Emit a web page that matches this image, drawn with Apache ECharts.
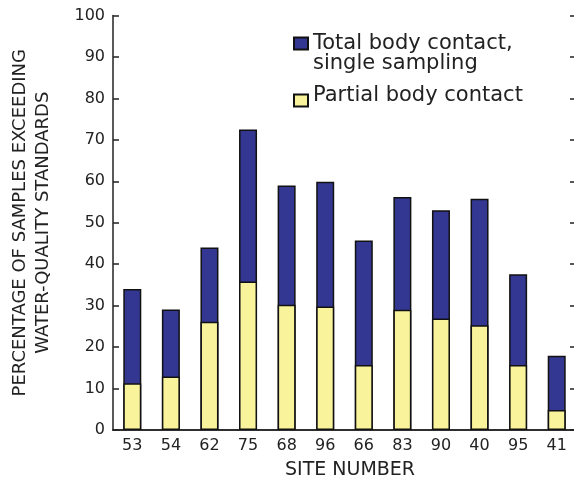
<!DOCTYPE html>
<html>
<head>
<meta charset="utf-8">
<script src="https://cdn.jsdelivr.net/npm/echarts@6/dist/echarts.min.js"></script>
<style>html,body{margin:0;padding:0;background:#fff;}#c{width:574px;height:479px;}</style>
</head>
<body>
<div id="c"></div>
<script>
var sites = ['53','54','62','75','68','96','66','83','90','40','95','41'];
var totalContact = [34, 29.1, 44, 72.5, 59, 59.9, 45.7, 56.2, 53, 55.8, 37.6, 17.9];
var partialContact = [11.3, 12.9, 26.1, 35.8, 30.2, 29.8, 15.7, 29, 26.9, 25.3, 15.7, 4.8];
var yMin = 0, yMax = 100, yStep = 10;
var totalName = 'Total body contact, single sampling';
var totalLines = ['Total body contact,', 'single sampling'];
var partialName = 'Partial body contact';

var FONT = 'DejaVu Sans';
var TXT = '#222';
var LINE = '#222';

var richStyles = {
  a: {fontFamily: FONT, fontSize: 21, color: TXT, lineHeight: 20},
  s: {fontFamily: FONT, fontSize: 1, color: 'rgba(0,0,0,0)', lineHeight: 20},
  t: {fontFamily: FONT, fontSize: 1, color: 'rgba(0,0,0,0)', lineHeight: 10}
};

var chart = echarts.init(document.getElementById('c'), null, {renderer: 'canvas'});
chart.setOption({
  animation: false,
  backgroundColor: '#fff',
  grid: {left: 113, right: -2, top: 15.5, bottom: 49, containLabel: false, outerBoundsMode: 'none'},
  legend: [
    {
      data: [totalName], orient: 'vertical', left: 293, top: 23, padding: 0,
      icon: 'rect', itemWidth: 14, itemHeight: 12, selectedMode: false,
      formatter: function () { return '{s| }\n{a|' + totalLines[0] + '}\n{a|' + totalLines[1] + '}'; },
      textStyle: {fontFamily: FONT, fontSize: 21, color: TXT, rich: richStyles}
    },
    {
      data: [partialName], orient: 'vertical', left: 293, top: 85, padding: 0,
      icon: 'rect', itemWidth: 14, itemHeight: 12, selectedMode: false,
      formatter: function (n) { return '{a|' + n + '}\n{t| }'; },
      textStyle: {fontFamily: FONT, fontSize: 21, color: TXT, rich: richStyles}
    }
  ],
  xAxis: [
    {
      type: 'category', data: sites, position: 'bottom',
      name: 'SITE NUMBER', nameLocation: 'middle', nameGap: 31,
      nameTextStyle: {fontFamily: FONT, fontSize: 19, color: TXT, padding: [0, 0, 0, 11]},
      axisLine: {lineStyle: {color: LINE, width: 1.5}},
      axisTick: {inside: true, length: 6, lineStyle: {color: LINE, width: 1.5}},
      axisLabel: {fontFamily: FONT, fontSize: 16, color: TXT, margin: 8}
    },
    {
      type: 'category', data: sites, position: 'top',
      axisLine: {lineStyle: {color: LINE, width: 1.5}},
      axisTick: {inside: true, length: 6, lineStyle: {color: LINE, width: 1.5}},
      axisLabel: {show: false}
    }
  ],
  yAxis: [
    {
      type: 'value', min: yMin, max: yMax, interval: yStep, position: 'left',
      name: 'PERCENTAGE OF SAMPLES EXCEEDING\nWATER-QUALITY STANDARDS',
      nameLocation: 'middle', nameGap: 58,
      nameTextStyle: {fontFamily: FONT, fontSize: 18, color: TXT, lineHeight: 23, align: 'center'},
      axisLine: {show: true, lineStyle: {color: LINE, width: 1.5}},
      axisTick: {show: true, inside: true, length: 6, lineStyle: {color: LINE, width: 1.5}},
      axisLabel: {fontFamily: FONT, fontSize: 16, color: TXT, margin: 8},
      splitLine: {show: false}
    },
    {
      type: 'value', min: yMin, max: yMax, interval: yStep, position: 'right',
      axisLine: {show: true, lineStyle: {color: LINE, width: 1.5}},
      axisTick: {show: true, inside: true, length: 6, lineStyle: {color: LINE, width: 1.5}},
      axisLabel: {show: false},
      splitLine: {show: false}
    }
  ],
  series: [
    {
      name: totalName, type: 'bar', data: totalContact, barWidth: 18, barGap: '-100%',
      itemStyle: {color: '#333791', borderColor: '#111', borderWidth: 1.5}
    },
    {
      name: partialName, type: 'bar', data: partialContact, barWidth: 18, barGap: '-100%',
      itemStyle: {color: '#f9f39c', borderColor: '#111', borderWidth: 1.5}
    }
  ]
});
</script>
</body>
</html>
